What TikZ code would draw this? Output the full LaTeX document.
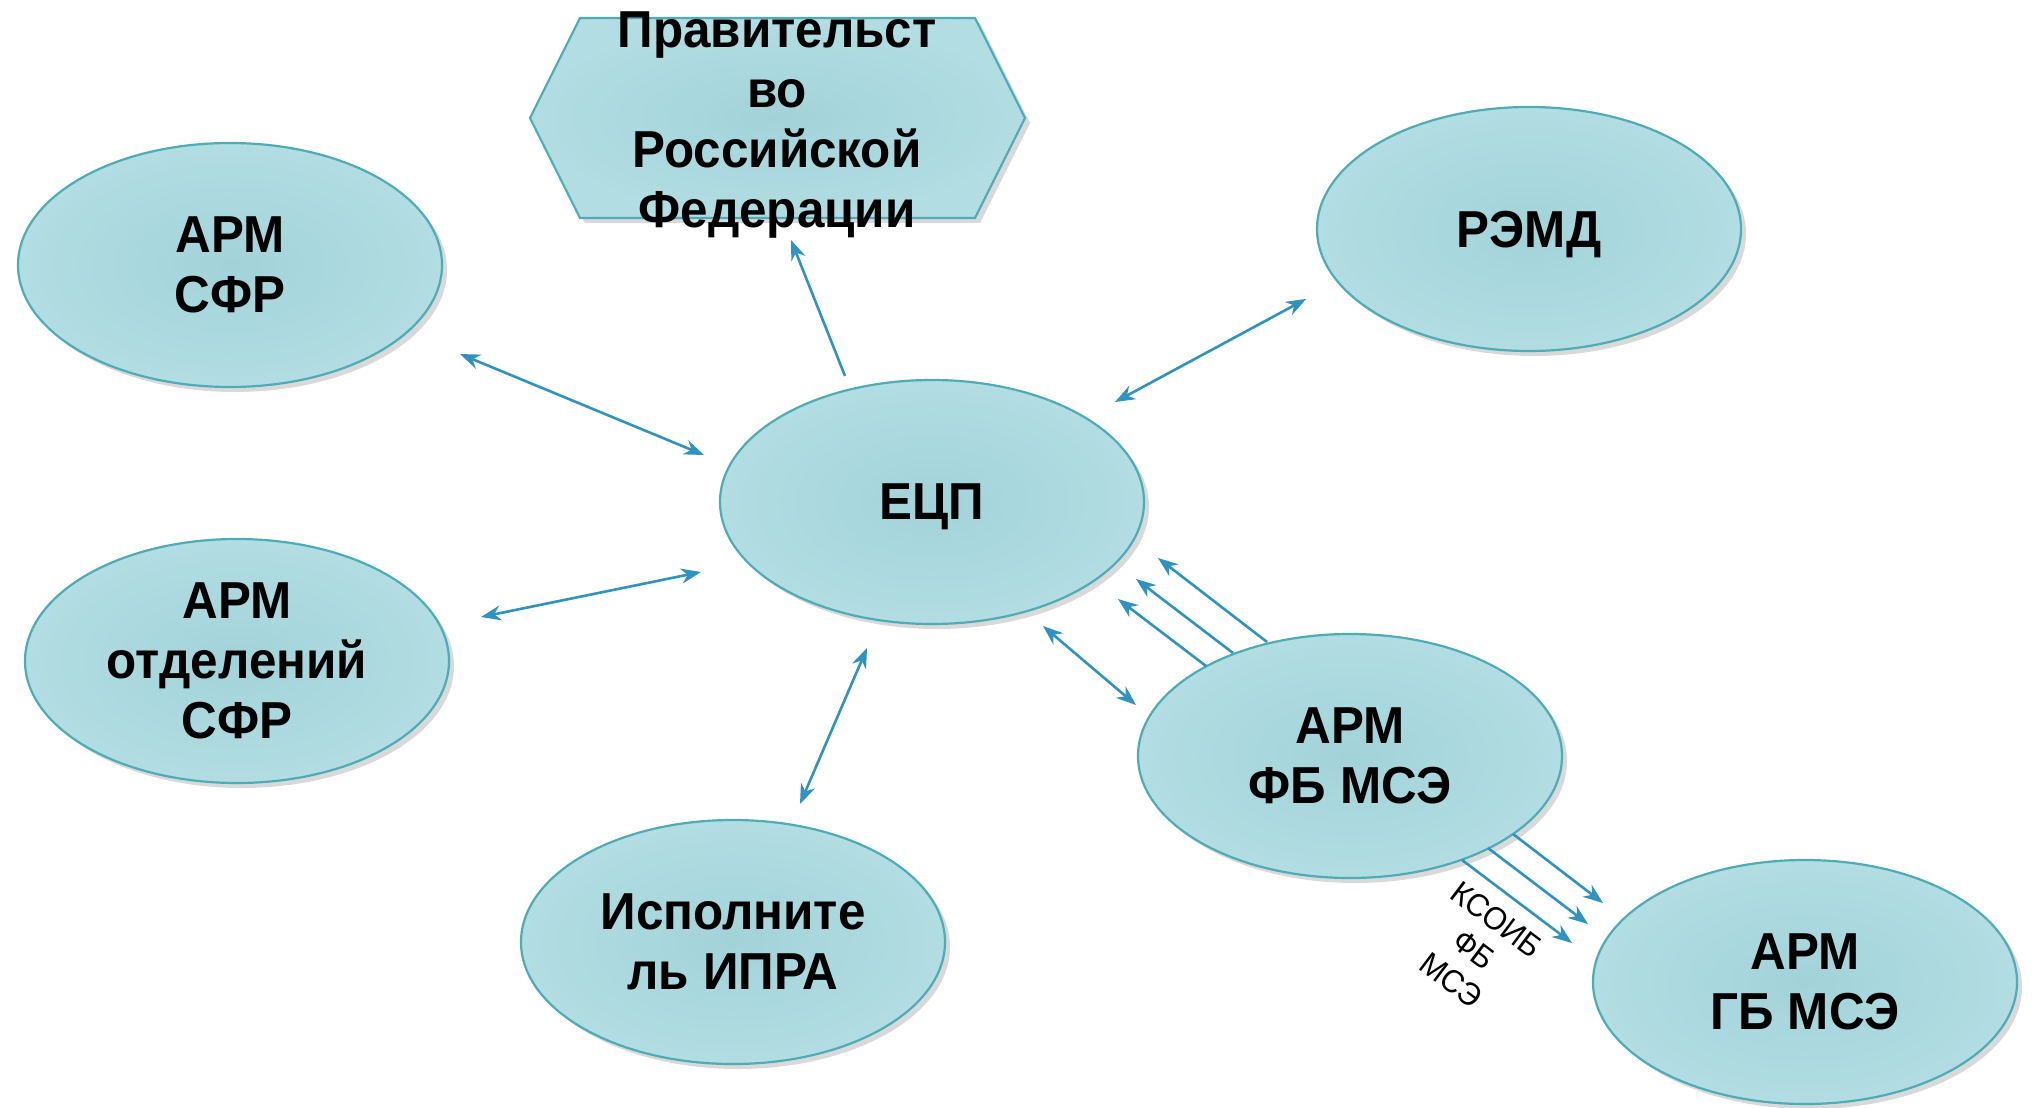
\documentclass[tikz,border=0pt]{standalone}
\usepackage{fontspec}
\setmainfont{Liberation Sans}[FakeStretch=0.95]
\usetikzlibrary{arrows.meta,shapes.geometric,shadows,positioning}

\definecolor{tealin}{RGB}{162,211,217}
\definecolor{tealout}{RGB}{178,221,226}
\definecolor{tealline}{RGB}{78,172,182}
\definecolor{linkblue}{RGB}{48,146,190}

\begin{document}
\begin{tikzpicture}[x=0.5pt,y=-0.5pt,
           every node/.style={inner sep=0pt},
           >={Stealth[length=10pt,width=7.5pt]},
           oval/.style={ellipse,draw=tealline,line width=1.1pt,
             shading=radial,inner color=tealin,outer color=tealout,
             minimum width=212pt,minimum height=122pt,align=center,
             drop shadow={opacity=0.3,shadow xshift=2.5pt,shadow yshift=-2.5pt},
             font=\bfseries\fontsize{26}{30}\selectfont},
           link/.style={draw=linkblue,line width=1.3pt}]
  \useasboundingbox (0,0) rectangle (2032,1107);
  % hexagon
  \path[draw=tealline,line width=1.1pt,shading=radial,inner color=tealin,
        outer color=tealout,
        drop shadow={opacity=0.3,shadow xshift=2.5pt,shadow yshift=-2.5pt}]
    (530,118)--(580,18)--(975,18)--(1025,118)--(975,218)--(580,218)--cycle;
  \node (prav) at (777,125)[align=center,font=\bfseries\fontsize{26}{30}\selectfont]
    {Правительст\\во\\Российской\\Федерации};
  % ovals
  \node[oval] (sfr) at (230,265) {АРМ\\СФР};
  \node[oval] (otd) at (237,661) {АРМ\\отделений\\СФР};
  \node[oval,text depth=0pt] (ecp) at (932,502) {ЕЦП};
  \node[oval,text depth=0pt] (remd) at (1529,229) {РЭМД};
  \node[oval] (ipra) at (733,942) {Исполните\\ль ИПРА};
  \node[oval] (fb) at (1350,756) {АРМ\\ФБ МСЭ};
  \node[oval] (gb) at (1805,982) {АРМ\\ГБ МСЭ};
  % arrow ends
  \coordinate (sfrA) at (460,354); \coordinate (sfrB) at (704,455);
  \coordinate (otdA) at (481,617); \coordinate (otdB) at (701,572);
  \coordinate (pravA) at (845,376); \coordinate (pravB) at (791,240);
  \coordinate (remdA) at (1115,402); \coordinate (remdB) at (1306,299);
  \coordinate (ipraA) at (800,804); \coordinate (ipraB) at (867,648);
  \coordinate (fbA) at (1043,626); \coordinate (fbB) at (1136,705);
  \coordinate (upA1) at (1206,666); \coordinate (upB1) at (1118,599);
  \coordinate (upA2) at (1233,653); \coordinate (upB2) at (1136,579);
  \coordinate (upA3) at (1267,642); \coordinate (upB3) at (1158,558);
  \coordinate (gbA1) at (1462,860); \coordinate (gbB1) at (1572,943);
  \coordinate (gbA2) at (1488,848); \coordinate (gbB2) at (1588,924);
  \coordinate (gbA3) at (1513,834); \coordinate (gbB3) at (1603,903);
  % links
  \draw[link,<->](sfrA)--(sfrB);
  \draw[link,<->](otdA)--(otdB);
  \draw[link,->](pravA)--(pravB);
  \draw[link,<->](remdA)--(remdB);
  \draw[link,<->](ipraA)--(ipraB);
  \draw[link,<->](fbA)--(fbB);
  \foreach \i in {1,2,3}{
    \draw[link,->](upA\i)--(upB\i);
    \draw[link,->](gbA\i)--(gbB\i);
  }
  \node (ksoib) at (1474,950)[rotate=-37,align=center,
    font=\fontsize{16}{19}\selectfont]{КСОИБ\\ФБ\\МСЭ};
\end{tikzpicture}
\end{document}
